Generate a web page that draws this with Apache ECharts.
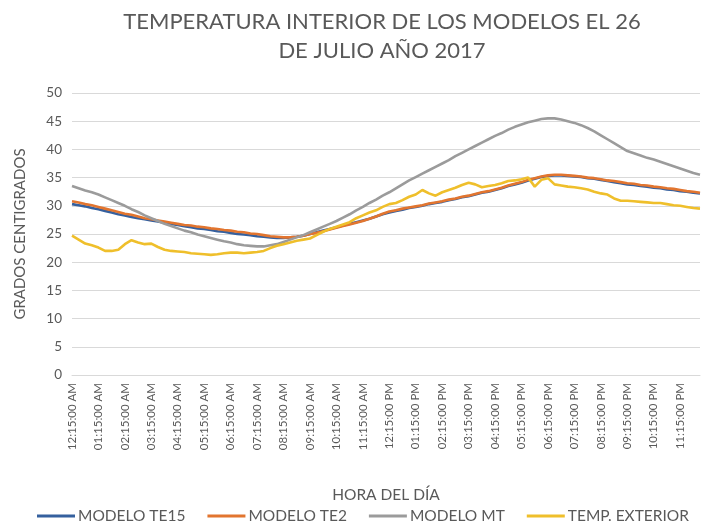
<!DOCTYPE html>
<html>
<head>
<meta charset="utf-8">
<script src="https://cdn.jsdelivr.net/npm/echarts@6/dist/echarts.min.js"></script>
<style>html,body{margin:0;padding:0;background:#fff}#c{width:706px;height:528px}</style>
</head>
<body>
<div id="c"></div>
<script>
// Categories: 15-minute readings from 12:15:00 AM to 12:00:00 AM
const categories = [];
for (let m = 15; m <= 24 * 60; m += 15) {
  const mm = m % (24 * 60);
  const h24 = Math.floor(mm / 60);
  const min = mm % 60;
  const h12 = h24 % 12 === 0 ? 12 : h24 % 12;
  const ap = h24 < 12 ? 'AM' : 'PM';
  categories.push(String(h12).padStart(2, '0') + ':' + String(min).padStart(2, '0') + ':00 ' + ap);
}

const seriesNames = ['MODELO TE15', 'MODELO TE2', 'MODELO MT', 'TEMP. EXTERIOR'];

const modeloTE15 = [
  30.3, 30.1, 29.9, 29.6, 29.4, 29.1, 28.8, 28.5, 28.3, 28.0, 27.8, 27.6,
  27.4, 27.2, 27.0, 26.8, 26.6, 26.4, 26.2, 26.0, 25.9, 25.7, 25.5, 25.4,
  25.2, 25.0, 24.9, 24.8, 24.6, 24.5, 24.4, 24.3, 24.3, 24.4, 24.5, 24.7,
  25.0, 25.3, 25.6, 25.9, 26.2, 26.5, 26.8, 27.1, 27.4, 27.7, 28.1, 28.5,
  28.8, 29.1, 29.3, 29.6, 29.8, 30.0, 30.3, 30.5, 30.7, 31.0, 31.2, 31.5,
  31.7, 32.0, 32.3, 32.5, 32.8, 33.1, 33.5, 33.8, 34.1, 34.5, 34.8, 35.1,
  35.3, 35.4, 35.4, 35.3, 35.2, 35.1, 34.9, 34.8, 34.6, 34.4, 34.2, 34.0,
  33.8, 33.7, 33.5, 33.4, 33.2, 33.1, 32.9, 32.8, 32.6, 32.5, 32.3, 32.2
];

const modeloTE2 = [
  30.8, 30.6, 30.3, 30.1, 29.8, 29.5, 29.2, 28.9, 28.6, 28.4, 28.1, 27.8,
  27.6, 27.4, 27.2, 27.0, 26.8, 26.6, 26.5, 26.3, 26.2, 26.0, 25.9, 25.7,
  25.6, 25.4, 25.3, 25.1, 25.0, 24.8, 24.6, 24.5, 24.4, 24.4, 24.5, 24.7,
  25.0, 25.2, 25.5, 25.8, 26.1, 26.4, 26.7, 27.0, 27.3, 27.7, 28.1, 28.6,
  29.0, 29.2, 29.5, 29.7, 29.9, 30.1, 30.4, 30.6, 30.8, 31.1, 31.3, 31.6,
  31.8, 32.1, 32.4, 32.6, 32.9, 33.2, 33.6, 33.9, 34.2, 34.6, 34.9, 35.2,
  35.4, 35.5, 35.5, 35.4, 35.3, 35.2, 35.0, 34.9, 34.7, 34.5, 34.4, 34.2,
  34.0, 33.9, 33.7, 33.6, 33.4, 33.3, 33.1, 33.0, 32.8, 32.6, 32.5, 32.3
];

const modeloMT = [
  33.5, 33.1, 32.7, 32.4, 32.0, 31.5, 31.0, 30.5, 30.0, 29.4, 28.9, 28.3,
  27.8, 27.3, 26.8, 26.4, 26.0, 25.6, 25.3, 24.9, 24.6, 24.3, 24.0, 23.7,
  23.5, 23.2, 23.0, 22.9, 22.8, 22.8, 23.0, 23.2, 23.6, 24.0, 24.4, 24.8,
  25.3, 25.8, 26.3, 26.8, 27.3, 27.9, 28.5, 29.2, 29.8, 30.5, 31.1, 31.8,
  32.4, 33.1, 33.8, 34.5, 35.1, 35.7, 36.3, 36.9, 37.5, 38.1, 38.8, 39.4,
  40.0, 40.6, 41.2, 41.8, 42.4, 42.9, 43.5, 44.0, 44.4, 44.8, 45.1, 45.4,
  45.5, 45.5, 45.3, 45.0, 44.7, 44.3, 43.8, 43.2, 42.5, 41.8, 41.1, 40.4,
  39.7, 39.3, 38.9, 38.5, 38.2, 37.8, 37.4, 37.0, 36.6, 36.2, 35.8, 35.5
];

const tempExterior = [
  24.7, 24.0, 23.3, 23.0, 22.6, 22.0, 22.0, 22.2, 23.2, 23.9, 23.5, 23.2,
  23.3, 22.7, 22.2, 22.0, 21.9, 21.8, 21.6, 21.5, 21.4, 21.3, 21.4, 21.6,
  21.7, 21.7, 21.6, 21.7, 21.8, 22.0, 22.5, 22.9, 23.2, 23.5, 23.8, 24.0,
  24.2, 24.8, 25.4, 25.9, 26.3, 26.7, 27.1, 27.8, 28.3, 28.8, 29.2, 29.8,
  30.3, 30.5, 31.0, 31.6, 32.0, 32.8, 32.2, 31.8, 32.4, 32.8, 33.2, 33.7,
  34.1, 33.8, 33.3, 33.5, 33.7, 34.0, 34.4, 34.5, 34.7, 35.0, 33.4, 34.6,
  34.9, 33.8, 33.6, 33.4, 33.3, 33.1, 32.9, 32.5, 32.2, 32.0, 31.3, 30.9,
  30.9, 30.8, 30.7, 30.6, 30.5, 30.5, 30.3, 30.1, 30.0, 29.8, 29.6, 29.5
];

const yTicks = { min: 0, max: 50, interval: 5 };
const colors = ['#35609e', '#e2752f', '#9b9b9b', '#efbf2b'];

const textColor = '#595959';
const font = 'Lato, "Open Sans", sans-serif';
const chart = echarts.init(document.getElementById('c'), null, { renderer: 'canvas' });

const dataSets = [modeloTE15, modeloTE2, modeloMT, tempExterior];

chart.setOption({
  animation: false,
  backgroundColor: '#ffffff',
  color: colors,
  title: {
    text: 'TEMPERATURA INTERIOR DE LOS MODELOS EL 26\nDE JULIO AÑO 2017',
    left: 377,
    top: 2,
    textAlign: 'center',
    textStyle: { fontFamily: font, fontSize: 22, fontWeight: 'normal', color: textColor, lineHeight: 29 }
  },
  legend: {
    top: 503,
    left: 32,
    itemWidth: 38,
    itemHeight: 3,
    itemGap: 22,
    icon: 'rect',
    textStyle: { fontFamily: font, fontSize: 15.5, color: textColor, padding: [0, 0, 0, -2] },
    data: seriesNames
  },
  grid: { left: 72, right: 6, top: 93, bottom: 153 },
  xAxis: {
    type: 'category',
    data: categories,
    boundaryGap: false,
    name: 'HORA DEL DÍA',
    nameLocation: 'middle',
    nameGap: 112,
    nameTextStyle: { fontFamily: font, fontSize: 15.5, color: textColor },
    axisLine: { lineStyle: { color: '#d9d9d9', width: 1 } },
    axisTick: { show: false },
    axisLabel: {
      interval: 3,
      rotate: 90,
      fontFamily: font,
      fontSize: 11.5,
      color: textColor,
      margin: 8
    },
    splitLine: { show: false }
  },
  yAxis: {
    type: 'value',
    min: yTicks.min,
    max: yTicks.max,
    interval: yTicks.interval,
    name: 'GRADOS CENTIGRADOS',
    nameLocation: 'middle',
    nameGap: 44,
    nameTextStyle: { fontFamily: font, fontSize: 15, color: textColor },
    axisLine: { show: false },
    axisTick: { show: false },
    axisLabel: { fontFamily: font, fontSize: 13.5, color: textColor, margin: 10 },
    splitLine: { lineStyle: { color: '#d9d9d9', width: 1 } }
  },
  series: seriesNames.map((n, i) => ({
    name: n,
    type: 'line',
    data: dataSets[i],
    showSymbol: false,
    symbol: 'none',
    smooth: false,
    lineStyle: { width: 2.6, color: colors[i] },
    itemStyle: { color: colors[i] },
    z: 2 + i
  }))
});
</script>
</body>
</html>
